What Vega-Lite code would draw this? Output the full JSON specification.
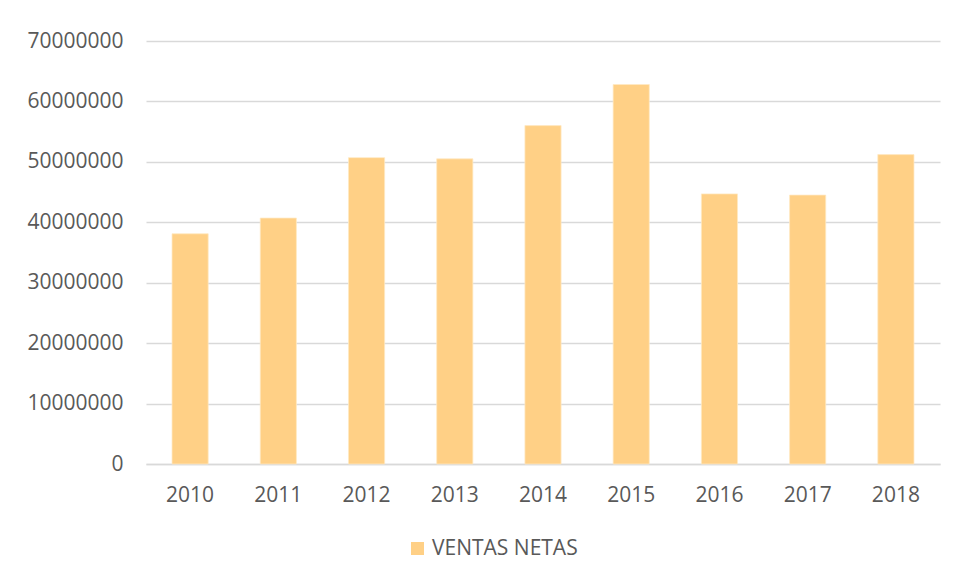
{
  "$schema": "https://vega.github.io/schema/vega-lite/v6.json",
  "autosize": {"type": "none"},
  "width": 794,
  "height": 423,
  "padding": {"left": 146, "top": 41, "right": 14, "bottom": 117},
  "background": "white",
  "config": {
    "view": {"stroke": null},
    "font": "Open Sans",
    "axis": {"labelFont": "Open Sans", "labelFontSize": 21, "labelColor": "#595959", "titleFontSize": 0}
  },
  "data": {
    "values": [
      {"year": "2010", "ventas": 38100000, "serie": "VENTAS NETAS"},
      {"year": "2011", "ventas": 40700000, "serie": "VENTAS NETAS"},
      {"year": "2012", "ventas": 50700000, "serie": "VENTAS NETAS"},
      {"year": "2013", "ventas": 50500000, "serie": "VENTAS NETAS"},
      {"year": "2014", "ventas": 56000000, "serie": "VENTAS NETAS"},
      {"year": "2015", "ventas": 62800000, "serie": "VENTAS NETAS"},
      {"year": "2016", "ventas": 44700000, "serie": "VENTAS NETAS"},
      {"year": "2017", "ventas": 44500000, "serie": "VENTAS NETAS"},
      {"year": "2018", "ventas": 51200000, "serie": "VENTAS NETAS"}
    ]
  },
  "mark": {"type": "bar", "stroke": "#FFE9C4", "strokeWidth": 0.75},
  "encoding": {
    "x": {
      "field": "year", "type": "ordinal", "title": null,
      "scale": {"paddingInner": 0.59, "paddingOuter": 0.295},
      "axis": {"labelAngle": 0, "ticks": false, "domainColor": "#D9D9D9", "domainWidth": 1.5, "labelPadding": 20}
    },
    "y": {
      "field": "ventas", "type": "quantitative", "title": null,
      "scale": {"domain": [0, 70000000], "nice": false},
      "axis": {"values": [0, 10000000, 20000000, 30000000, 40000000, 50000000, 60000000, 70000000], "format": "d", "ticks": false, "domain": false, "gridColor": "#D9D9D9", "gridWidth": 1.5, "labelPadding": 23}
    },
    "color": {
      "field": "serie", "type": "nominal",
      "scale": {"range": ["#FFD086"]},
      "legend": {"title": null, "orient": "none", "legendX": 261, "legendY": 497, "symbolType": "square", "symbolSize": 169, "symbolStrokeWidth": 0, "labelFontSize": 21, "labelColor": "#595959", "labelFont": "Open Sans", "labelOffset": 4, "padding": 0}
    }
  }
}
